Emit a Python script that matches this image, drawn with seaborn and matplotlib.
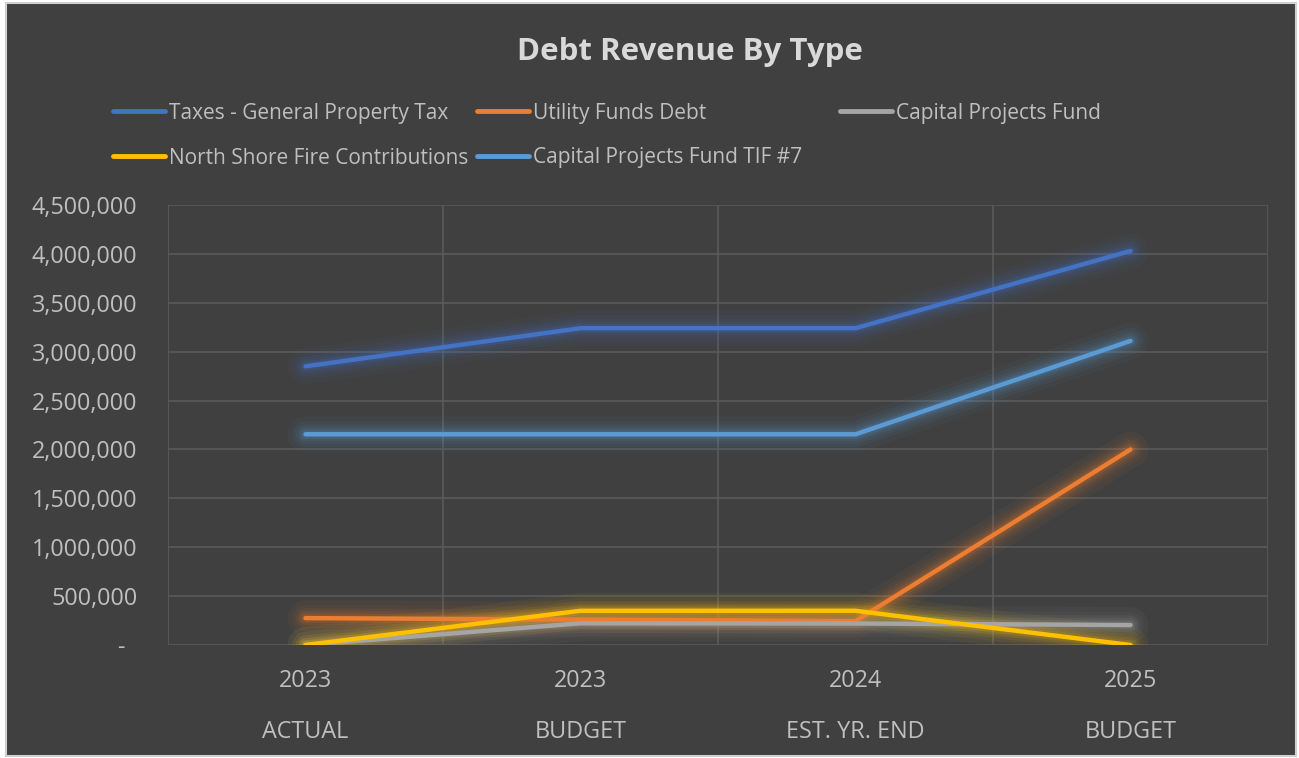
import matplotlib
matplotlib.use("Agg")
import matplotlib.pyplot as plt
import matplotlib.patches as mpatches
from matplotlib.lines import Line2D
from matplotlib.ticker import FuncFormatter, FixedLocator
import seaborn as sns
import pandas as pd

# ---- data ----
years = ["2023", "2023", "2024", "2025"]
phases = ["ACTUAL", "BUDGET", "EST. YR. END", "BUDGET"]
series_names = ["Taxes - General Property Tax", "Utility Funds Debt",
                "Capital Projects Fund", "North Shore Fire Contributions",
                "Capital Projects Fund TIF #7"]
taxes = [2850000, 3240000, 3240000, 4030000]
utility = [275000, 260000, 245000, 2000000]
capital = [0, 222000, 220000, 204000]
north_shore = [0, 350000, 350000, 0]
tif7 = [2155000, 2155000, 2155000, 3110000]
colors = ["#4472C4", "#ED7D31", "#A5A5A5", "#FFC000", "#5B9BD5"]

values = [taxes, utility, capital, north_shore, tif7]
rows = []
for name, vals in zip(series_names, values):
    for i, v in enumerate(vals):
        rows.append({"pos": i, "value": v, "series": name})
df = pd.DataFrame(rows)
palette = dict(zip(series_names, colors))

# ---- figure ----
sns.set_theme(style="dark")
plt.rcParams["font.family"] = ["Open Sans", "DejaVu Sans"]
BG = "#404040"
TXT = "#BFBFBF"

fig = plt.figure(figsize=(12.99, 7.58), dpi=100, facecolor="white")
W, H = 1299, 758
# chart area background with light border
fig.patches.append(mpatches.Rectangle((6 / W, 2 / H), (1296 - 6) / W, (755 - 2) / H,
                                      transform=fig.transFigure, facecolor=BG,
                                      edgecolor="#D0D0D0", linewidth=1.5, zorder=-5))

ax = fig.add_axes([168 / W, 1 - 645 / H, (1268 - 168) / W, (645 - 205) / H])
ax.set_facecolor(BG)
ax.set_zorder(1)

# glow layers then main lines
for name in series_names:
    sub = df[df["series"] == name]
    for lw, a in [(26, 0.05), (19, 0.06), (14, 0.08), (10, 0.11), (6.5, 0.15)]:
        sns.lineplot(data=sub, x="pos", y="value", color=palette[name], linewidth=lw,
                     alpha=a, ax=ax, legend=False, solid_capstyle="round",
                     solid_joinstyle="round", zorder=2)
    sns.lineplot(data=sub, x="pos", y="value", color=palette[name], linewidth=3.2,
                 ax=ax, legend=False, solid_capstyle="round",
                 solid_joinstyle="round", zorder=3)

ax.set_xlim(-0.5, 3.5)
ax.set_ylim(0, 4500000)
ax.set_yticks(range(0, 4500001, 500000))
ax.yaxis.set_major_formatter(FuncFormatter(lambda v, p: "-  " if v == 0 else f"{int(v):,}"))
ax.set_xticks(range(4))
ax.set_xticklabels([f"{y}\n\n{p}" for y, p in zip(years, phases)], linespacing=1.09)
ax.xaxis.set_minor_locator(FixedLocator([-0.5, 0.5, 1.5, 2.5, 3.5]))

ax.grid(which="major", axis="y", color="#5A5A5A", linewidth=1.2)
ax.grid(which="minor", axis="x", color="#5A5A5A", linewidth=1.2)
ax.grid(which="major", axis="x", visible=False)
ax.tick_params(axis="y", colors=TXT, labelsize=16.8, pad=22, length=0)
ax.tick_params(axis="x", colors=TXT, labelsize=16.8, pad=17, length=0, which="both")
for s in ax.spines.values():
    s.set_visible(False)
ax.set_xlabel("")
ax.set_ylabel("")

fig.text(690 / W, 1 - 52 / H, "Debt Revenue By Type", ha="center", va="center",
         fontsize=22.5, fontweight="bold", color="#D9D9D9")

# legend entries placed like Excel (row-major, equal columns)
legend_pos = [(113, 113), (477, 113), (840, 113), (113, 158), (477, 158)]
for name, (lx, ly) in zip(series_names, legend_pos):
    h = Line2D([], [], color=palette[name], linewidth=3.5, solid_capstyle="round")
    fig.legend([h], [name], loc="center left",
               bbox_to_anchor=(lx / W, 1 - ly / H), frameon=False,
               fontsize=15, labelcolor=TXT, handlelength=2.5, handletextpad=0.2,
               borderaxespad=0, borderpad=0)

fig.savefig("out.png", dpi=100, facecolor=fig.get_facecolor())
